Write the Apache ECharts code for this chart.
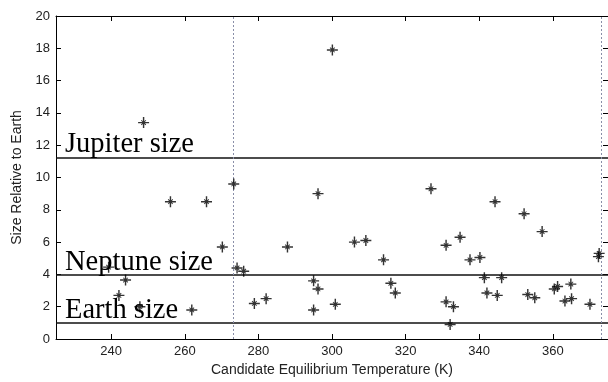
<!DOCTYPE html>
<html>
<head>
<meta charset="utf-8">
<script src="https://cdn.jsdelivr.net/npm/echarts@6/dist/echarts.min.js"></script>
<style>
html,body{margin:0;padding:0;background:#fff;}
#c{width:608px;height:382px;}
</style>
</head>
<body>
<div id="c"></div>
<script>
// Candidate equilibrium temperature (K)
var temps = [248.8, 300.1, 256.1, 239.3, 243.9, 242.1, 247.8, 261.9,
  273.3, 265.9, 296.2, 270.2, 287.9, 274.2, 276.0, 295.0, 296.2, 278.9, 282.1, 295.0,
  326.9, 306.1, 309.2, 314.0, 331.0, 334.8, 316.0, 317.2, 300.9, 331.0, 333.0, 332.1,
  344.3, 352.2, 357.1, 337.5, 340.2, 372.4, 372.6, 341.4, 346.1, 342.1, 344.9,
  353.2, 355.1, 360.4, 361.3, 364.9, 363.3, 365.1, 370.1];
// Size relative to Earth
var sizes = [13.4, 17.9, 8.5, 4.45, 3.65, 2.7, 2.0, 1.8,
  9.6, 8.5, 9.0, 5.7, 5.7, 4.4, 4.2, 3.6, 3.1, 2.2, 2.5, 1.8,
  9.3, 6.0, 6.1, 4.9, 5.8, 6.3, 3.45, 2.85, 2.15, 2.3, 2.0, 0.9,
  8.5, 7.75, 6.65, 4.9, 5.05, 5.1, 5.3, 3.8, 3.8, 2.85, 2.7,
  2.75, 2.55, 3.1, 3.25, 3.4, 2.35, 2.5, 2.15];
var xTicks = [240, 260, 280, 300, 320, 340, 360];
var refNames = ['Jupiter size', 'Neptune size', 'Earth size'];
var refValues = [11.25, 3.95, 1.0];
var tempLines = [273.15, 373.15];

var pts = temps.map(function (t, i) { return [t, sizes[i]]; });
var star = 'path://M4.35,0h1.3v10h-1.3z M0,4.35h10v1.3h-10z M2.6,3.2L3.2,2.6L7.4,6.8L6.8,7.4Z M6.8,2.6L7.4,3.2L3.2,7.4L2.6,6.8Z';

var chart = echarts.init(document.getElementById('c'), null, {renderer: 'canvas'});
var tickStyle = {inside: true, length: 5, lineStyle: {color: '#000', width: 1}};
var labelFont = {color: '#222', fontFamily: 'Liberation Sans, Arial, sans-serif', fontSize: 13};
chart.setOption({
  animation: false,
  backgroundColor: '#fff',
  grid: {left: 56, top: 16, width: 553, height: 323, containLabel: false},
  xAxis: [{
    type: 'value', min: 225, max: 375, position: 'bottom',
    name: 'Candidate Equilibrium Temperature (K)', nameLocation: 'middle', nameGap: 23,
    nameTextStyle: {color: '#222', fontFamily: 'Liberation Sans, Arial, sans-serif', fontSize: 14},
    axisLine: {show: true, onZero: false, lineStyle: {color: '#000', width: 1}},
    axisTick: Object.assign({customValues: xTicks}, tickStyle),
    axisLabel: Object.assign({customValues: xTicks, margin: 6}, labelFont),
    splitLine: {show: false}
  }, {
    type: 'value', min: 225, max: 375, position: 'top',
    axisLine: {show: true, onZero: false, lineStyle: {color: '#000', width: 1}},
    axisTick: Object.assign({customValues: xTicks}, tickStyle),
    axisLabel: {show: false},
    splitLine: {show: false}
  }],
  yAxis: [{
    type: 'value', min: 0, max: 20, interval: 2, position: 'left',
    name: 'Size Relative to Earth', nameLocation: 'middle', nameGap: 30,
    nameTextStyle: {color: '#222', fontFamily: 'Liberation Sans, Arial, sans-serif', fontSize: 14},
    axisLine: {show: true, onZero: false, lineStyle: {color: '#000', width: 1}},
    axisTick: tickStyle,
    axisLabel: Object.assign({margin: 6}, labelFont),
    splitLine: {show: false}
  }, {
    type: 'value', min: 0, max: 20, interval: 2, position: 'right',
    axisLine: {show: true, onZero: false, lineStyle: {color: '#000', width: 1}},
    axisTick: tickStyle,
    axisLabel: {show: false},
    splitLine: {show: false}
  }],
  series: [{
    type: 'scatter',
    data: pts,
    symbol: star,
    symbolSize: 11,
    itemStyle: {color: '#000'},
    z: 5,
    markLine: {
      silent: true, symbol: 'none', animation: false,
      label: {show: false},
      data: refValues.map(function (v) {
        return {yAxis: v, lineStyle: {color: '#111', width: 1.5, type: 'solid'}};
      }).concat(tempLines.map(function (v) {
        return {xAxis: v, lineStyle: {color: '#8a8fa8', width: 1, type: [2, 2]}};
      }))
    }
  }]
});

var graphics = refNames.map(function (n, i) {
  var p = chart.convertToPixel({gridIndex: 0}, [225, refValues[i]]);
  return {
    type: 'text', left: 65, top: p[1] - 27, z: 10,
    style: {text: n, fill: '#000', font: '28.5px "Liberation Serif", "Times New Roman", serif'}
  };
});
chart.setOption({graphic: graphics});
</script>
</body>
</html>
